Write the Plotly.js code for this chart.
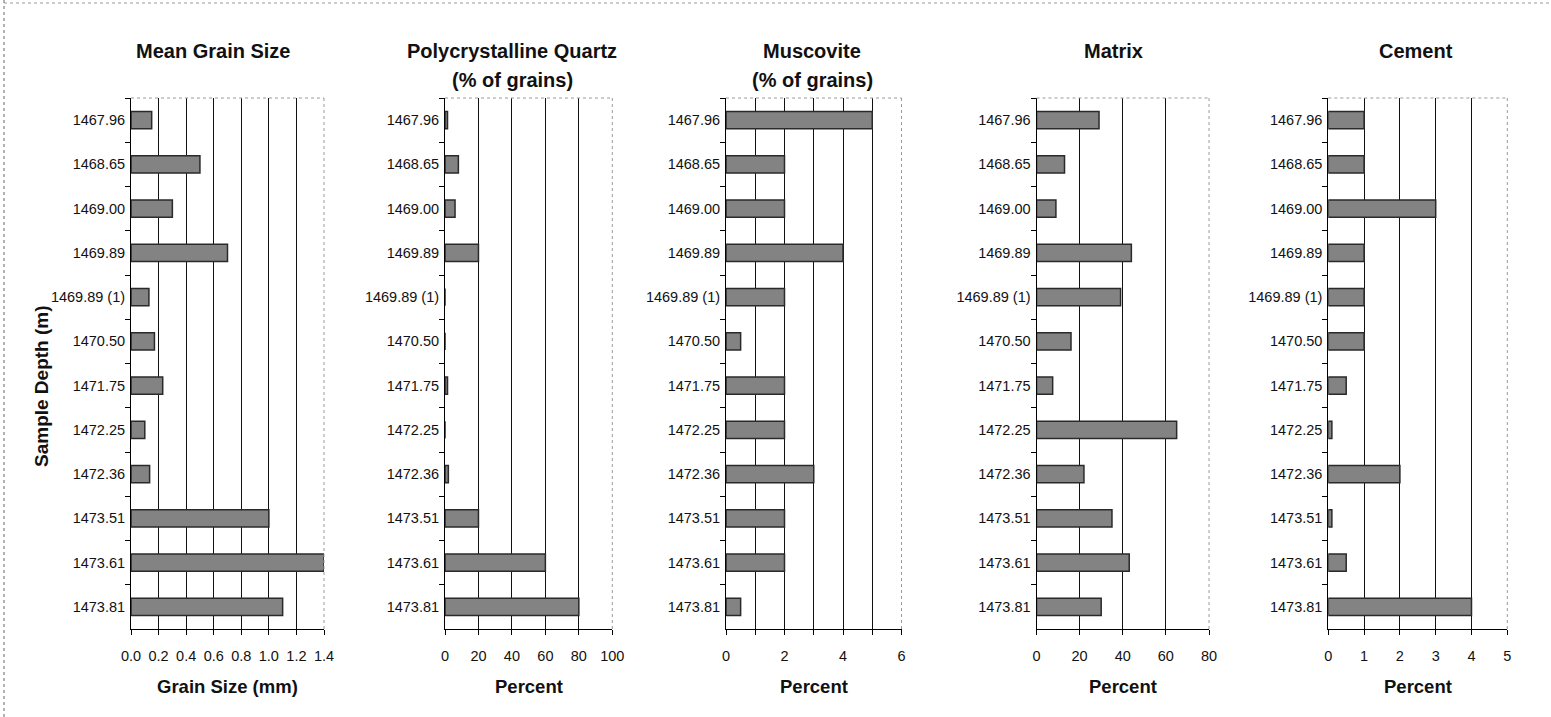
<!DOCTYPE html>
<html><head><meta charset="utf-8">
<script src="https://cdn.plot.ly/plotly-3.0.1.min.js"></script>
<style>html,body{margin:0;padding:0;background:#fff}#chart{width:1551px;height:717px}</style>
</head><body><div id="chart"></div>
<script>
// ---- data ----
const depths = ['1467.96','1468.65','1469.00','1469.89','1469.89 (1)','1470.50','1471.75','1472.25','1472.36','1473.51','1473.61','1473.81'];
const meanGrainSize = [0.15,0.50,0.30,0.70,0.13,0.17,0.23,0.10,0.135,1.00,1.40,1.10];
const polyQuartz = [1.5,8,6,20,0,0,1.5,0,2,20,60,80];
const muscovite = [5,2,2,4,2,0.5,2,2,3,2,2,0.5];
const matrix = [29,13,9,44,39,16,7.5,65,22,35,43,30];
const cement = [1,1,3,1,1,1,0.5,0.1,2,0.1,0.5,4];

const panelTitles = [['Mean Grain Size'],['Polycrystalline Quartz','(% of grains)'],['Muscovite','(% of grains)'],['Matrix'],['Cement']];
const axisTitles = ['Grain Size (mm)','Percent','Percent','Percent','Percent'];
const yAxisTitle = 'Sample Depth (m)';

const grainTicks = [0,0.2,0.4,0.6,0.8,1.0,1.2,1.4];
const grainTickText = ['0.0','0.2','0.4','0.6','0.8','1.0','1.2','1.4'];
const quartzTicks = [0,20,40,60,80,100];
const muscTicks = [0,1,2,3,4,5,6];
const muscTickText = ['0','','2','','4','','6'];
const matrixTicks = [0,20,40,60,80];
const cementTicks = [0,1,2,3,4,5];

const series = [meanGrainSize, polyQuartz, muscovite, matrix, cement];
const tickVals = [grainTicks, quartzTicks, muscTicks, matrixTicks, cementTicks];
const tickTexts = [grainTickText, quartzTicks.map(String), muscTickText, matrixTicks.map(String), cementTicks.map(String)];

// ---- layout geometry (pixels) ----
const W = 1551, H = 717;
const panelPx = [[131,324],[445,612.3],[726,901.5],[1036.5,1209],[1328.3,1507.3]];
const titleCx = [213,512,812,1113,1416];
const plotTop = 98, plotBottom = 629;
const px = v => v / W, py = v => 1 - v / H;

const font = 'Liberation Sans, Arial, Helvetica, sans-serif';
const traces = [], layout = {
  width: W, height: H, margin: {l:0,r:0,t:0,b:0},
  paper_bgcolor: '#fff', plot_bgcolor: '#fff', showlegend: false,
  font: {family: font, color: '#111', size: 14},
  bargap: 0.61, annotations: [], shapes: []
};

series.forEach((vals, i) => {
  const n = i === 0 ? '' : String(i + 1);
  traces.push({
    type: 'bar', orientation: 'h', x: vals, y: depths,
    xaxis: 'x' + n, yaxis: 'y' + n,
    marker: {color: '#838383', line: {color: '#2a2a2a', width: 1.5}},
    hoverinfo: 'x+y'
  });
  const xmax = tickVals[i][tickVals[i].length - 1];
  layout['xaxis' + n] = {
    domain: [px(panelPx[i][0]), px(panelPx[i][1])], anchor: 'y' + n,
    range: [0, xmax], tickmode: 'array', tickvals: tickVals[i], ticktext: tickTexts[i],
    showgrid: true, gridcolor: '#111', gridwidth: 1, zeroline: false,
    showline: true, linecolor: '#000', linewidth: 1,
    ticks: 'outside', ticklen: 5, tickcolor: '#000', ticklabelstandoff: 9,
    tickfont: {size: 14.5, color: '#111'}, fixedrange: true
  };
  layout['yaxis' + n] = {
    domain: [py(plotBottom), py(plotTop)], anchor: 'x' + n,
    type: 'category', range: [11.5, -0.5], tickson: 'boundaries',
    ticks: 'outside', ticklen: 5, tickcolor: '#000',
    showline: true, linecolor: '#000', linewidth: 1, showgrid: false, zeroline: false,
    tickfont: {size: 14.5, color: '#111'}, ticklabelstandoff: 2, fixedrange: true
  };
  // dotted top/right plot border
  layout.shapes.push(
    {type:'line', xref:'x'+n+' domain', yref:'y'+n+' domain', x0:0, x1:1, y0:1, y1:1, line:{color:'#9a9a9a', width:1, dash:'dot'}},
    {type:'line', xref:'x'+n+' domain', yref:'y'+n+' domain', x0:1, x1:1, y0:0, y1:1, line:{color:'#9a9a9a', width:1, dash:'dot'}}
  );
  // panel titles
  panelTitles[i].forEach((t, k) => {
    layout.annotations.push({text: '<b>' + t + '</b>', xref:'paper', yref:'paper',
      x: px(titleCx[i]), y: py(51 + 29 * k), xanchor:'center', yanchor:'middle', showarrow:false,
      font:{size: 20, color:'#111', family: font}});
  });
  // x axis titles
  layout.annotations.push({text: '<b>' + axisTitles[i] + '</b>', xref:'x'+n+' domain', yref:'paper',
    x: 0.5, y: py(686), xanchor:'center', yanchor:'middle', showarrow:false,
    font:{size: 18.5, color:'#111', family: font}});
});

layout.annotations.push({text: '<b>' + yAxisTitle + '</b>', xref:'paper', yref:'paper',
  x: px(41), y: py(386), xanchor:'center', yanchor:'middle', textangle: -90, showarrow:false,
  font:{size: 19, color:'#111', family: font}});

// outer frame
layout.shapes.push(
  {type:'line', xref:'paper', yref:'paper', x0:px(4), x1:px(4), y0:0, y1:1, line:{color:'#666', width:1, dash:'dot'}},
  {type:'line', xref:'paper', yref:'paper', x0:px(4), x1:1, y0:py(3), y1:py(3), line:{color:'#999', width:1, dash:'dot'}}
);

Plotly.newPlot('chart', traces, layout, {staticPlot: true, displayModeBar: false});
</script></body></html>
